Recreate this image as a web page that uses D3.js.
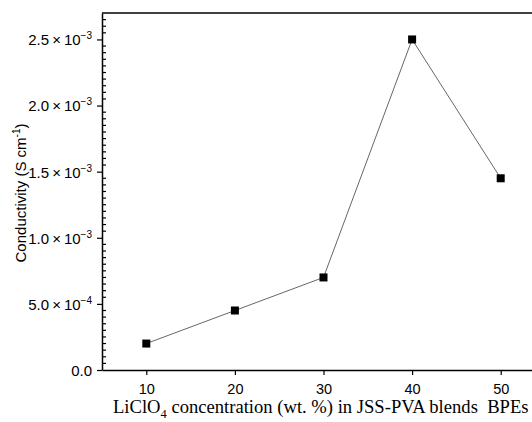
<!DOCTYPE html>
<html>
<head>
<meta charset="utf-8">
<script src="https://cdn.jsdelivr.net/npm/d3@7"></script>
<style>
  html, body { margin: 0; padding: 0; background: #fff; }
  svg { display: block; }
</style>
</head>
<body>
<svg id="chart" width="532" height="422"></svg>
<script>
const concentrations = [10, 20, 30, 40, 50];
const conductivity = [2.0e-4, 4.5e-4, 7.0e-4, 2.5e-3, 1.45e-3];
const xTicks = [10, 20, 30, 40, 50];
const yTicks = [0, 5e-4, 1.0e-3, 1.5e-3, 2.0e-3, 2.5e-3];

(function() {
const svg = d3.select("#chart");
const mLeft = 102, mRight = 545, mTop = 13, mBottom = 370;

const x = d3.scaleLinear().domain([5, 55]).range([mLeft, mRight]);
const y = d3.scaleLinear().domain([0, 2.7e-3]).range([mBottom, mTop]);

// frame top line
svg.append("line").attr("x1", mLeft).attr("x2", mRight).attr("y1", mTop).attr("y2", mTop)
  .attr("stroke", "#000").attr("stroke-width", 1.5);

// y minor ticks (inside)
const yMinor = d3.range(1, 54).map(i => i * 5e-5).filter((v, i) => (i + 1) % 10 !== 0);
svg.append("g").selectAll("line").data(yMinor).join("line")
  .attr("x1", mLeft).attr("x2", mLeft + 4)
  .attr("y1", d => y(d)).attr("y2", d => y(d))
  .attr("stroke", "#000").attr("stroke-width", 1.2);

// y axis
function sciLabel(sel, d) {
  if (d === 0) { sel.text("0.0"); return; }
  const e = Math.floor(Math.log10(d) + 1e-9);
  const m = d / Math.pow(10, e);
  sel.text(null);
  sel.append("tspan").text(m.toFixed(1) + "\u2009\u00d7\u200910");
  sel.append("tspan").attr("dy", -6).attr("font-size", 10).text("\u2212" + Math.abs(e));
}
const yAxis = svg.append("g").attr("transform", `translate(${mLeft},0)`)
  .call(d3.axisLeft(y).tickValues(yTicks).tickSize(5).tickSizeOuter(0).tickPadding(5));
yAxis.select(".domain").attr("stroke-width", 1.5);
yAxis.selectAll(".tick line").attr("stroke-width", 1.2);
yAxis.selectAll(".tick text")
  .attr("font-family", "Liberation Sans, Arial, sans-serif").attr("font-size", 15).attr("fill", "#000")
  .attr("dy", "0.36em")
  .each(function(d) { sciLabel(d3.select(this), d); });

// x axis
const xAxis = svg.append("g").attr("transform", `translate(0,${mBottom})`)
  .call(d3.axisBottom(x).tickValues(xTicks).tickSize(5).tickSizeOuter(0).tickPadding(9));
xAxis.select(".domain").attr("stroke-width", 1.5);
xAxis.selectAll(".tick line").attr("stroke-width", 1.2);
xAxis.selectAll(".tick text")
  .attr("font-family", "Liberation Sans, Arial, sans-serif").attr("font-size", 14.5).attr("fill", "#000");

// data line
const pts = concentrations.map((c, i) => [c, conductivity[i]]);
svg.append("path").datum(pts)
  .attr("fill", "none").attr("stroke", "#555").attr("stroke-width", 0.9)
  .attr("d", d3.line().x(d => x(d[0])).y(d => y(d[1])));

svg.append("g").selectAll("rect").data(pts).join("rect")
  .attr("x", d => x(d[0]) - 4).attr("y", d => y(d[1]) - 4)
  .attr("width", 8).attr("height", 8).attr("fill", "#000");

// y title
const yt = svg.append("text")
  .attr("transform", "translate(26,193) rotate(-90)")
  .attr("text-anchor", "middle")
  .attr("font-family", "Liberation Sans, Arial, sans-serif").attr("font-size", 15).attr("fill", "#000");
yt.append("tspan").text("Conductivity (S cm");
yt.append("tspan").attr("dy", -6).attr("font-size", 10).text("-1");
yt.append("tspan").attr("dy", 6).text(")");

// x title
const xt = svg.append("text")
  .attr("x", 113).attr("y", 413)
  .attr("font-family", "Liberation Serif, Times New Roman, serif").attr("font-size", 18.6).attr("fill", "#000");
xt.append("tspan").text("LiClO");
xt.append("tspan").attr("dy", 5).attr("font-size", 12.5).text("4");
xt.append("tspan").attr("dy", -5).text(" concentration (wt. %) in JSS-PVA blends\u00a0 BPEs");
})();
</script>
</body>
</html>
